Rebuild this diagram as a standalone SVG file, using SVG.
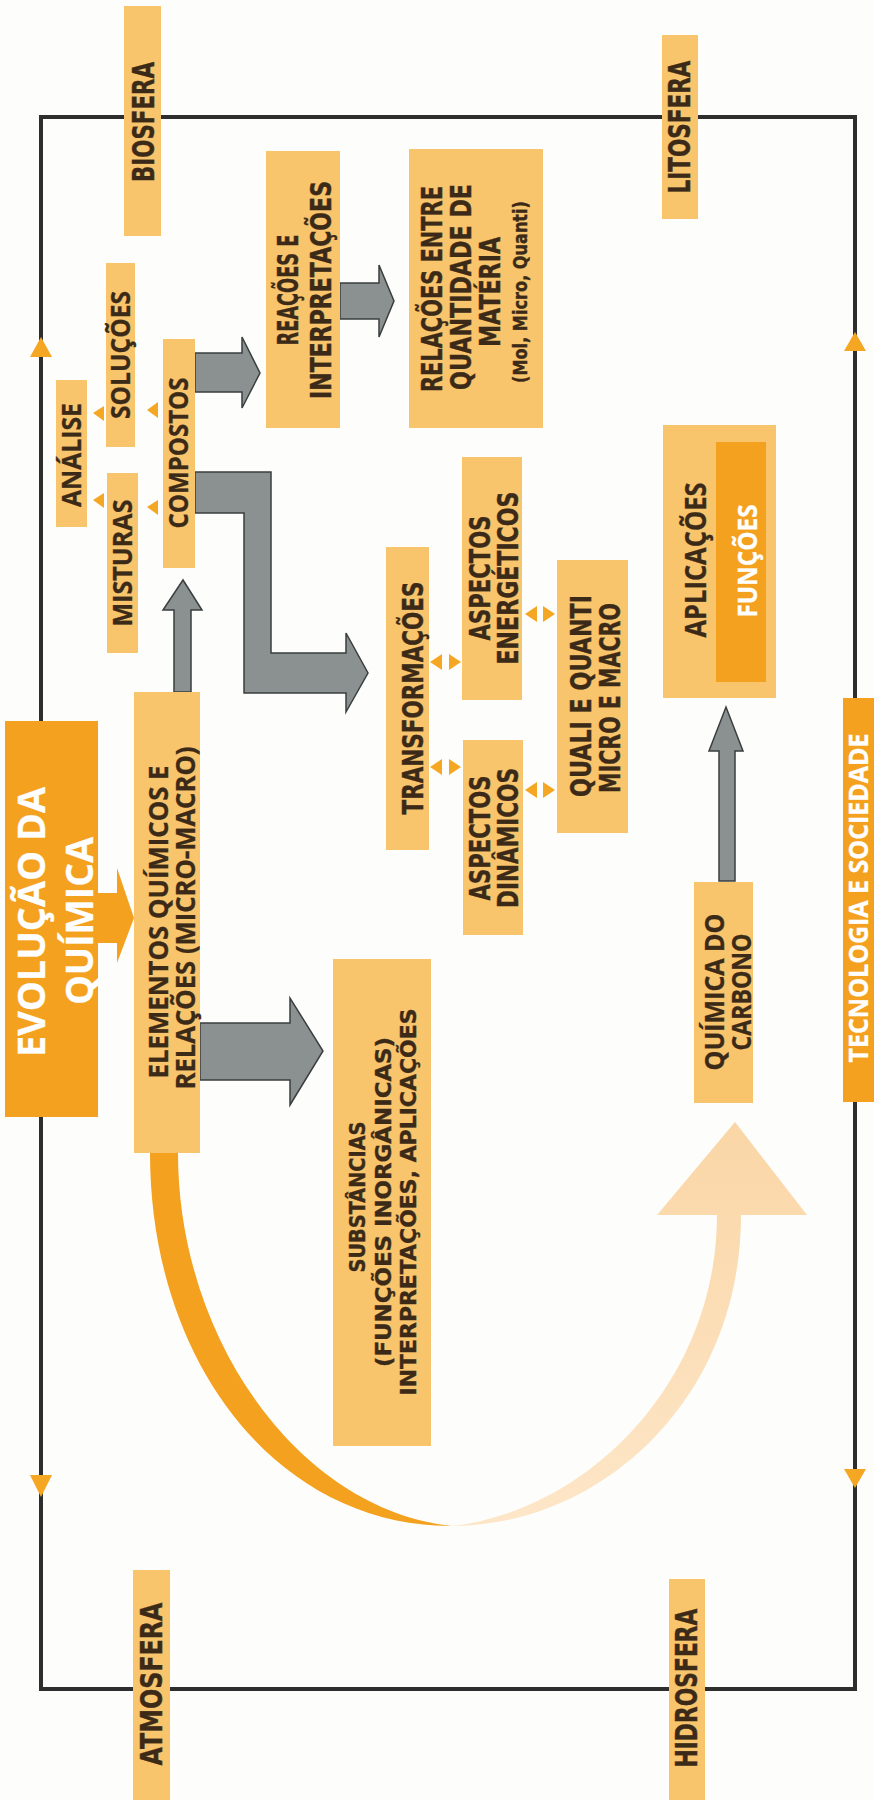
<svg xmlns="http://www.w3.org/2000/svg" width="874" height="1800" viewBox="0 0 874 1800">
<defs>
<linearGradient id="peach" x1="0" y1="1" x2="0" y2="0">
<stop offset="0" stop-color="#fde6c8"/>
<stop offset="1" stop-color="#fad6a6"/>
</linearGradient>
</defs>
<style>
.box{fill:#f8c46c}
.dark{fill:#f4a11f}
.t{font-family:"DejaVu Sans",Verdana,sans-serif;font-weight:bold;fill:#3b2a17;stroke:#3b2a17;stroke-width:0.4;text-anchor:middle;font-size:28px}
.s{font-size:30px}
.h{font-family:"Open Sans","Noto Sans",sans-serif;font-weight:bold;fill:#3b2a17;stroke:#3b2a17;stroke-width:0.3;text-anchor:middle;font-size:27px}
.w{fill:#ffffff;stroke:#ffffff}
.gray{fill:#8b9191;stroke:#3a3e3e;stroke-width:1.5;stroke-linejoin:miter}
.tri{fill:#f5a623}
.frame{fill:none;stroke:#2e2e2e;stroke-width:4}
</style>
<rect x="0" y="0" width="874" height="1800" fill="#fdfdfb"/>
<g id="connectors">
  <rect class="frame" x="41" y="117" width="814" height="1572"/>
  <polygon class="tri" points="41,337 30,357 52,357"/>
  <polygon class="tri" points="855,332 844,351 866,351"/>
  <polygon class="tri" points="30,1475 52,1475 41,1497"/>
  <polygon class="tri" points="844,1469 866,1469 855,1488"/>
  <polygon class="tri" points="93,413 104,406 104,421"/>
  <polygon class="tri" points="147,410 158,402 158,418"/>
  <polygon class="tri" points="93,500 104,493 104,508"/>
  <polygon class="tri" points="147,507 158,500 158,515"/>
  <polygon class="tri" points="430,662 442,654 442,670"/>
  <polygon class="tri" points="461,662 449,654 449,670"/>
  <polygon class="tri" points="430,767 442,759 442,775"/>
  <polygon class="tri" points="461,767 449,759 449,775"/>
  <polygon class="tri" points="525,614 537,606 537,622"/>
  <polygon class="tri" points="555,614 543,606 543,622"/>
  <polygon class="tri" points="525,790 537,782 537,798"/>
  <polygon class="tri" points="555,790 543,782 543,798"/>
  <polygon class="gray" points="340,283 379,283 379,265 394,301 379,337 379,319 340,319"/>
  <polygon class="gray" points="195,353 242,353 242,337 260,373 242,408 242,392 195,392"/>
  <polygon class="gray" points="195,472 271,472 271,653 346,653 346,633 368,673 346,712 346,693 244,693 244,513 195,513"/>
  <polygon class="gray" points="174,692 174,610 163,610 183,580 202,610 191,610 191,692"/>
  <polygon class="gray" points="200,1023 290,1023 290,998 323,1051 290,1105 290,1080 200,1080"/>
  <polygon class="gray" points="719,881 719,751 709,751 726,707 743,751 735,751 735,881"/>
  <polygon class="dark" points="98,893 117,893 117,868 134,918 117,963 117,943 98,943"/>
  <path class="dark" d="M150,1153 C150,1360 275,1526 452,1526 C300,1510 178,1340 178,1153 Z"/>
  <path fill="url(#peach)" d="M452,1526 C600,1526 741,1400 741,1215 L807,1215 L735,1122 L657,1215 L717,1215 C717,1380 590,1510 452,1526 Z"/>
</g>
<g id="biosfera">
  <rect class="box" x="124" y="6" width="37" height="230"/>
  <text class="t s" transform="translate(154,122) rotate(-90)" textLength="120" lengthAdjust="spacingAndGlyphs">BIOSFERA</text>
</g>
<g id="litosfera">
  <rect class="box" x="662" y="35" width="36" height="184"/>
  <text class="t s" transform="translate(690,127) rotate(-90)" textLength="133" lengthAdjust="spacingAndGlyphs">LITOSFERA</text>
</g>
<g id="atmosfera">
  <rect class="box" x="133" y="1570" width="37" height="230"/>
  <text class="t s" transform="translate(162,1684) rotate(-90)" textLength="163" lengthAdjust="spacingAndGlyphs">ATMOSFERA</text>
</g>
<g id="hidrosfera">
  <rect class="box" x="669" y="1579" width="36" height="221"/>
  <text class="t s" transform="translate(697,1688) rotate(-90)" textLength="159" lengthAdjust="spacingAndGlyphs">HIDROSFERA</text>
</g>
<g id="reacoes">
  <rect class="box" x="266" y="151" width="74" height="277"/>
  <text class="t" transform="translate(298,290) rotate(-90)" textLength="111" lengthAdjust="spacingAndGlyphs">REAÇÕES E</text>
  <text class="t" transform="translate(331,290) rotate(-90)" textLength="218" lengthAdjust="spacingAndGlyphs">INTERPRETAÇÕES</text>
</g>
<g id="relacoes">
  <rect class="box" x="409" y="149" width="134" height="279"/>
  <text class="t" transform="translate(442,289) rotate(-90)" textLength="206" lengthAdjust="spacingAndGlyphs">RELAÇÕES ENTRE</text>
  <text class="t" transform="translate(471,287) rotate(-90)" textLength="206" lengthAdjust="spacingAndGlyphs">QUANTIDADE DE</text>
  <text class="t" transform="translate(500,292) rotate(-90)" textLength="110" lengthAdjust="spacingAndGlyphs">MATÉRIA</text>
  <text class="t" style="font-size:19px" transform="translate(527,292) rotate(-90)" textLength="182" lengthAdjust="spacingAndGlyphs">(Mol, Micro, Quanti)</text>
</g>
<g id="solucoes">
  <rect class="box" x="106" y="263" width="29" height="184"/>
  <text class="h" transform="translate(130,355) rotate(-90)" textLength="128" lengthAdjust="spacingAndGlyphs">SOLUÇÕES</text>
</g>
<g id="analise">
  <rect class="box" x="56" y="380" width="31" height="147"/>
  <text class="h" transform="translate(81,455) rotate(-90)" textLength="104" lengthAdjust="spacingAndGlyphs">ANÁLISE</text>
</g>
<g id="misturas">
  <rect class="box" x="107" y="473" width="31" height="180"/>
  <text class="h" transform="translate(132,563) rotate(-90)" textLength="127" lengthAdjust="spacingAndGlyphs">MISTURAS</text>
</g>
<g id="compostos">
  <rect class="box" x="163" y="339" width="32" height="229"/>
  <text class="h" transform="translate(188,453) rotate(-90)" textLength="151" lengthAdjust="spacingAndGlyphs">COMPOSTOS</text>
</g>
<g id="evolucao">
  <rect class="dark" x="5" y="721" width="93" height="396"/>
  <text class="h w" style="font-size:37px" transform="translate(45,922) rotate(-90)" textLength="270" lengthAdjust="spacingAndGlyphs">EVOLUÇÃO DA</text>
  <text class="h w" style="font-size:37px" transform="translate(93,921) rotate(-90)" textLength="168" lengthAdjust="spacingAndGlyphs">QUÍMICA</text>
</g>
<g id="elementos">
  <rect class="box" x="134" y="692" width="66" height="461"/>
  <text class="h" transform="translate(168,922) rotate(-90)" textLength="313" lengthAdjust="spacingAndGlyphs">ELEMENTOS QUÍMICOS E</text>
  <text class="h" transform="translate(195,918) rotate(-90)" textLength="343" lengthAdjust="spacingAndGlyphs">RELAÇÕES (MICRO-MACRO)</text>
</g>
<g id="substancias">
  <rect class="box" x="333" y="959" width="98" height="487"/>
  <text class="t" style="font-size:22px" transform="translate(365,1197) rotate(-90)" textLength="151" lengthAdjust="spacingAndGlyphs">SUBSTÂNCIAS</text>
  <text class="t" style="font-size:22px" transform="translate(391,1202) rotate(-90)" textLength="330" lengthAdjust="spacingAndGlyphs">(FUNÇÕES INORGÂNICAS)</text>
  <text class="t" style="font-size:22px" transform="translate(416,1202) rotate(-90)" textLength="387" lengthAdjust="spacingAndGlyphs">INTERPRETAÇÕES, APLICAÇÕES</text>
</g>
<g id="transformacoes">
  <rect class="box" x="386" y="547" width="43" height="303"/>
  <text class="t" style="font-size:29px" transform="translate(423,698) rotate(-90)" textLength="233" lengthAdjust="spacingAndGlyphs">TRANSFORMAÇÕES</text>
</g>
<g id="energeticos">
  <rect class="box" x="462" y="457" width="60" height="243"/>
  <text class="t" transform="translate(490,578) rotate(-90)" textLength="125" lengthAdjust="spacingAndGlyphs">ASPECTOS</text>
  <text class="t" transform="translate(518,578) rotate(-90)" textLength="173" lengthAdjust="spacingAndGlyphs">ENERGÉTICOS</text>
</g>
<g id="dinamicos">
  <rect class="box" x="463" y="740" width="60" height="195"/>
  <text class="t" transform="translate(490,838) rotate(-90)" textLength="125" lengthAdjust="spacingAndGlyphs">ASPECTOS</text>
  <text class="t" transform="translate(518,838) rotate(-90)" textLength="140" lengthAdjust="spacingAndGlyphs">DINÂMICOS</text>
</g>
<g id="quali">
  <rect class="box" x="557" y="560" width="71" height="273"/>
  <text class="t" transform="translate(591,696) rotate(-90)" textLength="202" lengthAdjust="spacingAndGlyphs">QUALI E QUANTI</text>
  <text class="t" transform="translate(620,698) rotate(-90)" textLength="190" lengthAdjust="spacingAndGlyphs">MICRO E MACRO</text>
</g>
<g id="aplicacoes">
  <rect class="box" x="663" y="425" width="113" height="273"/>
  <text class="h" style="font-size:28px" transform="translate(706,560) rotate(-90)" textLength="155" lengthAdjust="spacingAndGlyphs">APLICAÇÕES</text>
  <rect class="dark" x="716" y="442" width="50" height="240"/>
  <text class="h w" transform="translate(757,561) rotate(-90)" textLength="113" lengthAdjust="spacingAndGlyphs">FUNÇÕES</text>
</g>
<g id="carbono">
  <rect class="box" x="694" y="882" width="59" height="221"/>
  <text class="h" transform="translate(724,992) rotate(-90)" textLength="157" lengthAdjust="spacingAndGlyphs">QUÍMICA DO</text>
  <text class="h" transform="translate(751,992) rotate(-90)" textLength="117" lengthAdjust="spacingAndGlyphs">CARBONO</text>
</g>
<g id="tecnologia">
  <rect class="dark" x="843" y="698" width="31" height="404"/>
  <text class="h w" style="font-size:26px" transform="translate(868,898) rotate(-90)" textLength="329" lengthAdjust="spacingAndGlyphs">TECNOLOGIA E SOCIEDADE</text>
</g>
</svg>
